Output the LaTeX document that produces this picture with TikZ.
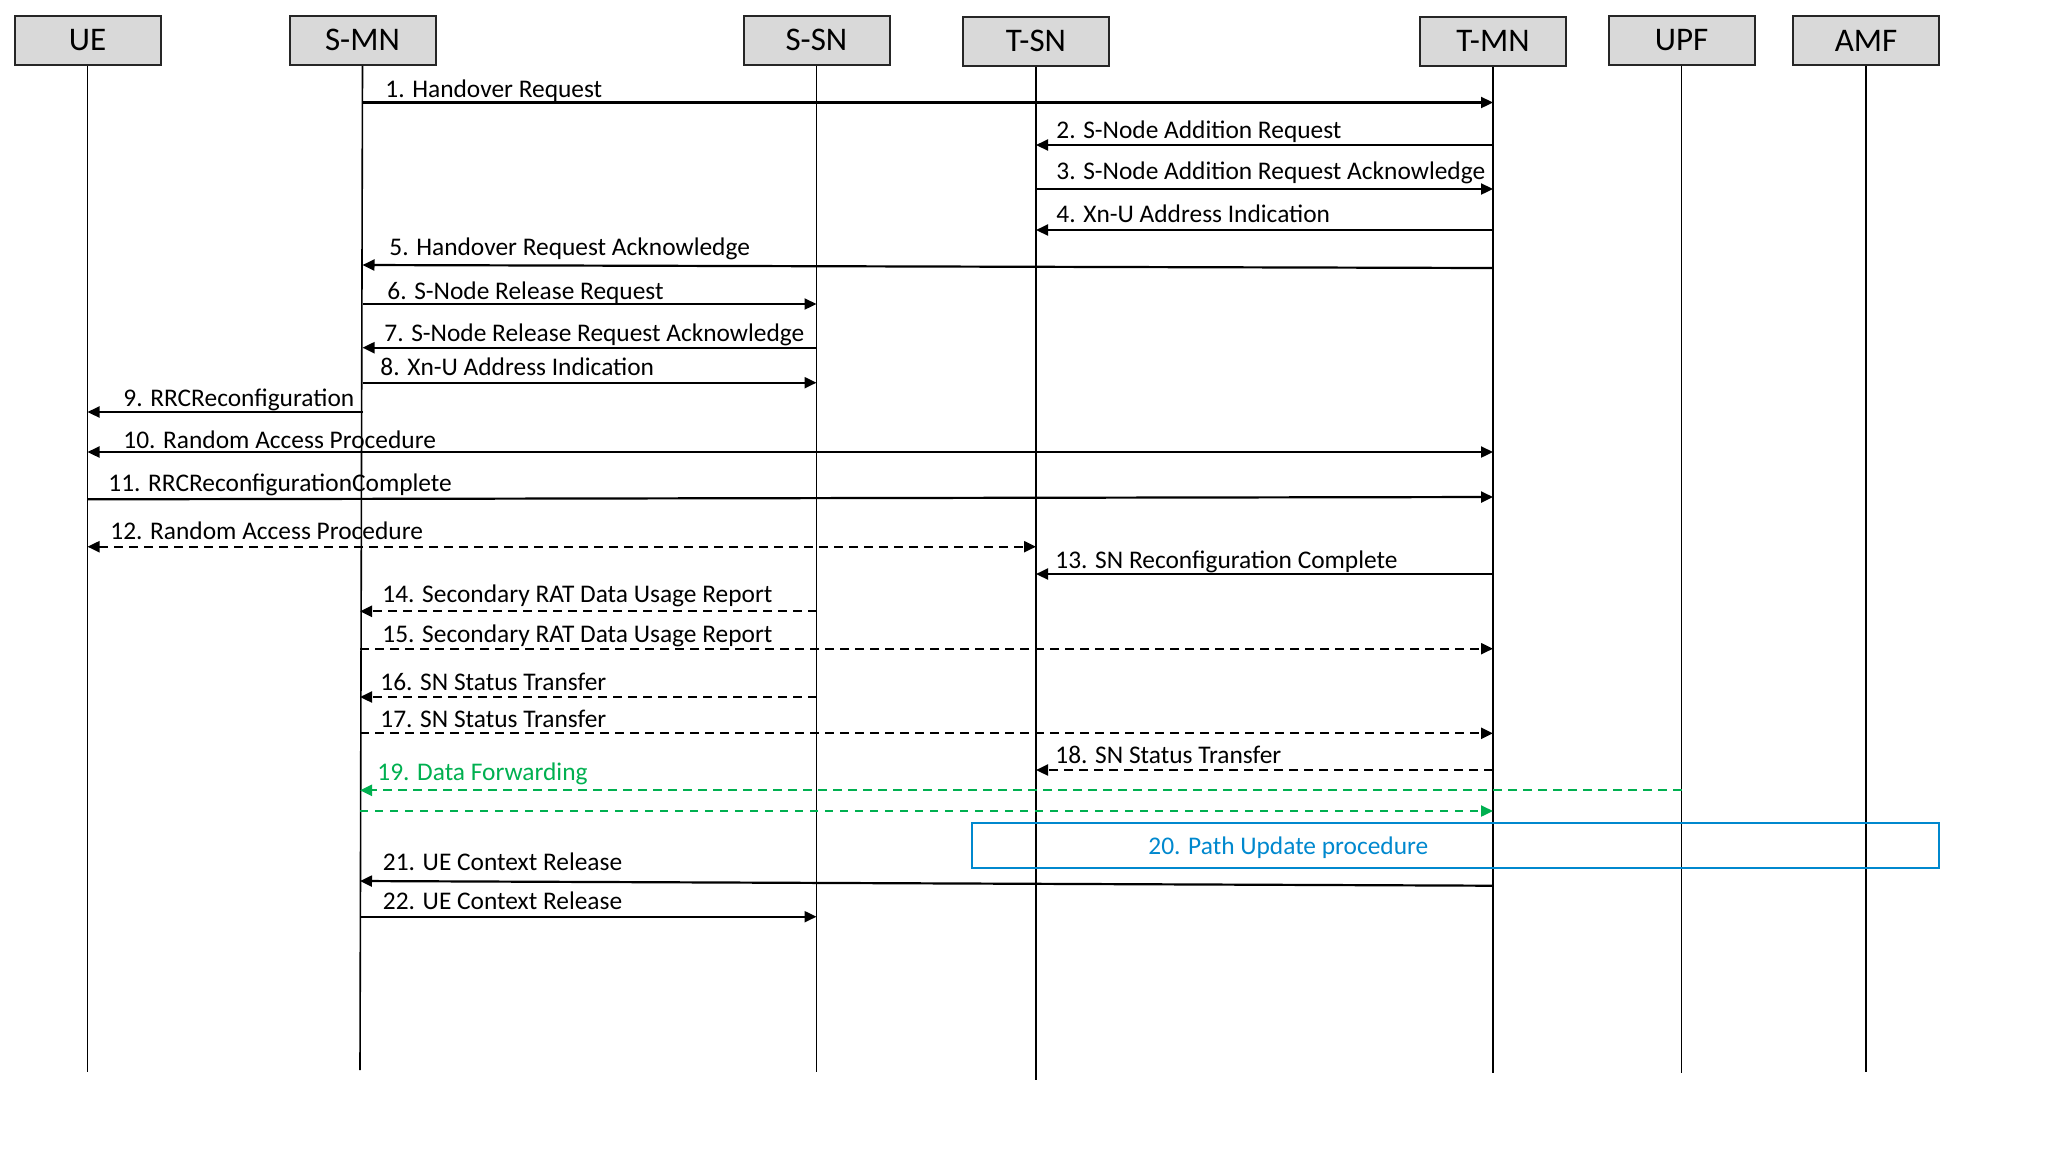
\documentclass[tikz,border=0pt]{standalone}
\usepackage{fontspec}
\setmainfont{Carlito}
\usetikzlibrary{arrows.meta,calc}
\definecolor{hdrfill}{HTML}{D9D9D9}
\definecolor{hdrdraw}{HTML}{262626}
\definecolor{fwdgreen}{HTML}{00B050}
\definecolor{pathblue}{HTML}{0088CE}
\newcommand\seqmsg[5]{\draw[#1] (#2 |- 0,#4) -- (#3 |- 0,#5);}
\begin{document}
\begin{tikzpicture}[x=0.5pt,y=-0.5pt,
  hdr/.style={draw=hdrdraw,fill=hdrfill,line width=1pt,minimum width=73pt,minimum height=24.6pt,inner sep=0pt,font=\fontsize{16.5}{18}\selectfont},
  life/.style={line width=0.8pt,black},
  msg/.style={line width=1.1pt,black,-{Triangle[length=6pt,width=5.5pt]}},
  bimsg/.style={line width=1.1pt,black,{Triangle[length=6pt,width=5.5pt]}-{Triangle[length=6pt,width=5.5pt]}},
  dmsg/.style={msg,dash pattern=on 4.5pt off 3pt},
  bidmsg/.style={bimsg,dash pattern=on 4.5pt off 3pt},
  gmsg/.style={line width=1.1pt,fwdgreen,dash pattern=on 4.2pt off 3.3pt,-{Triangle[length=6pt,width=5.5pt]}},
  lbl/.style={anchor=base west,inner sep=0pt,font=\fontsize{12.7}{15}\selectfont},
]
\useasboundingbox (0,0) rectangle (2048,1153);
% headers
\node[hdr] (ue)  at (87.5,40.3)  {UE};
\node[hdr] (smn) at (362.5,40.3) {S-MN};
\node[hdr] (ssn) at (816.5,40.3) {S-SN};
\node[hdr] (tsn) at (1036,41.3)  {T-SN};
\node[hdr] (tmn) at (1493,41.3)  {T-MN};
\node[hdr] (upf) at (1681.6,40.3) {UPF};
\node[hdr] (amf) at (1866,40.8)  {AMF};
% lifelines
\coordinate (smnend) at (360,1070);
\draw[life] (ue.south)  -- (ue |- 0,1072);
\draw[life] (smn.south) -- (smnend);
\draw[life] (ssn.south) -- (ssn |- 0,1072);
\draw[life] (tsn.south) -- (tsn |- 0,1080);
\draw[life] (tmn.south) -- (tmn |- 0,1073);
\draw[life] (upf.south) -- (upf |- 0,1073);
\draw[life] (amf.south) -- (amf |- 0,1072);
% messages
\seqmsg{msg}{smn}{tmn}{102.5}{102.5}
\node[lbl] (l1) at (385,97.5) {1. Handover Request};
\seqmsg{msg}{tmn}{tsn}{145}{145}
\node[lbl] (l2) at (1056,138.5) {2. S-Node Addition Request};
\seqmsg{msg}{tsn}{tmn}{189}{189}
\node[lbl] (l3) at (1056,179.5) {3. S-Node Addition Request Acknowledge};
\seqmsg{msg}{tmn}{tsn}{230}{230}
\node[lbl] (l4) at (1056,222.5) {4. Xn-U Address Indication};
\seqmsg{msg}{tmn}{smn}{268}{265}
\node[lbl] (l5) at (389,255.5) {5. Handover Request Acknowledge};
\seqmsg{msg}{smn}{ssn}{304}{304}
\node[lbl] (l6) at (387,299) {6. S-Node Release Request};
\seqmsg{msg}{ssn}{smn}{347.7}{347.7}
\node[lbl] (l7) at (384,341.5) {7. S-Node Release Request Acknowledge};
\seqmsg{msg}{smn}{ssn}{382.7}{382.7}
\node[lbl] (l8) at (380,375.5) {8. Xn-U Address Indication};
\seqmsg{msg}{smn}{ue}{412}{412}
\node[lbl] (l9) at (123,406.5) {9. RRCReconfiguration};
\seqmsg{bimsg}{ue}{tmn}{452}{452}
\node[lbl] (l10) at (123,448.5) {10. Random Access Procedure};
\seqmsg{msg}{ue}{tmn}{499.3}{497}
\node[lbl] (l11) at (108,491.5) {11. RRCReconfigurationComplete};
\seqmsg{bidmsg}{ue}{tsn}{546.7}{546.7}
\node[lbl] (l12) at (110,539.5) {12. Random Access Procedure};
\seqmsg{msg}{tmn}{tsn}{574}{574}
\node[lbl] (l13) at (1055,568.5) {13. SN Reconfiguration Complete};
\seqmsg{dmsg}{ssn}{smnend}{611.3}{611.3}
\node[lbl] (l14) at (382,602.5) {14. Secondary RAT Data Usage Report};
\seqmsg{dmsg}{smnend}{tmn}{648.7}{648.7}
\node[lbl] (l15) at (382,642.5) {15. Secondary RAT Data Usage Report};
\seqmsg{dmsg}{ssn}{smnend}{697}{697}
\node[lbl] (l16) at (380,690.2) {16. SN Status Transfer};
\seqmsg{dmsg}{smnend}{tmn}{733.3}{733.3}
\node[lbl] (l17) at (380,727.5) {17. SN Status Transfer};
\seqmsg{dmsg}{tmn}{tsn}{770}{770}
\node[lbl] (l18) at (1055,763.5) {18. SN Status Transfer};
\seqmsg{gmsg}{upf}{smnend}{790.3}{790.3}
\node[lbl,text=fwdgreen] (l19) at (377,780.2) {19. Data Forwarding};
\seqmsg{gmsg}{smnend}{tmn}{811}{811}
% path update box
\node[draw=pathblue,line width=1pt,minimum width=483.5pt,minimum height=22.6pt,inner sep=0pt] (p20) at (1455.5,845.1) {};
\node[lbl,text=pathblue] (l20) at (1148,854.2) {20. Path Update procedure};
\seqmsg{msg}{tmn}{smnend}{885.7}{881}
\node[lbl] (l21) at (382.5,870.5) {21. UE Context Release};
\seqmsg{msg}{smnend}{ssn}{916.7}{916.7}
\node[lbl] (l22) at (382.5,909.2) {22. UE Context Release};
\end{tikzpicture}
\end{document}
